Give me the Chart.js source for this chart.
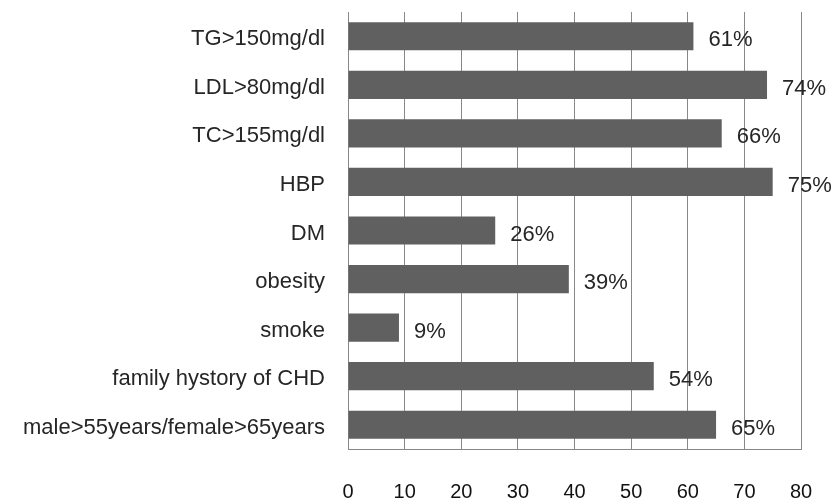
<!DOCTYPE html>
<html>
<head>
<meta charset="UTF-8">
<title>CHD risk factors</title>
<script src="https://cdn.jsdelivr.net/npm/chart.js@4.4.1/dist/chart.umd.min.js"></script>
<style>
  html, body { margin: 0; padding: 0; background: #fff; }
  #wrap { width: 833px; height: 500px; position: relative; }
</style>
</head>
<body>
<div id="wrap"><canvas id="myChart" width="833" height="500"></canvas></div>
<script>
// chart data
var categories = ["TG>150mg/dl", "LDL>80mg/dl", "TC>155mg/dl", "HBP", "DM",
                  "obesity", "smoke", "family hystory of CHD", "male>55years/female>65years"];
var percents = [61, 74, 66, 75, 26, 39, 9, 54, 65];
var xTicks = [0, 10, 20, 30, 40, 50, 60, 70, 80];

var FONT = "'Liberation Sans', Arial, sans-serif";

// draws "61%" etc. just right of each bar
var valueLabels = {
  id: "valueLabels",
  afterDatasetsDraw: function(chart) {
    var ctx = chart.ctx;
    var meta = chart.getDatasetMeta(0);
    ctx.save();
    ctx.font = "22px " + FONT;
    ctx.fillStyle = "#262626";
    ctx.textAlign = "left";
    ctx.textBaseline = "middle";
    meta.data.forEach(function(bar, i) {
      ctx.fillText(percents[i] + "%", bar.x + 15, bar.y + 4);
    });
    ctx.restore();
  }
};

function noPad(scale) {
  scale.paddingTop = 0; scale.paddingBottom = 0;
  scale.paddingLeft = 0; scale.paddingRight = 0;
}

new Chart(document.getElementById("myChart"), {
  type: "bar",
  data: {
    labels: categories,
    datasets: [{
      data: percents,
      backgroundColor: "#606060",
      borderWidth: 0,
      categoryPercentage: 1,
      barPercentage: 0.58
    }]
  },
  options: {
    indexAxis: "y",
    responsive: false,
    animation: false,
    layout: { padding: { top: 12, right: 32, bottom: 0, left: 0 } },
    plugins: { legend: { display: false }, tooltip: { enabled: false } },
    scales: {
      x: {
        min: 0, max: 80,
        afterBuildTicks: function(scale) {
          scale.ticks = xTicks.map(function(v) { return { value: v }; });
        },
        afterFit: function(scale) { scale.height = 51; noPad(scale); },
        grid: { color: "#888", lineWidth: 1, drawTicks: false },
        border: { color: "#888", width: 1 },
        ticks: { padding: 31, color: "#111", font: { family: FONT, size: 20 } }
      },
      y: {
        afterFit: function(scale) { scale.width = 348; noPad(scale); },
        grid: { display: false, drawTicks: false },
        border: { color: "#888", width: 1 },
        ticks: { padding: 23, labelOffset: 3, color: "#262626", font: { family: FONT, size: 22 } }
      }
    }
  },
  plugins: [valueLabels]
});
</script>
</body>
</html>
